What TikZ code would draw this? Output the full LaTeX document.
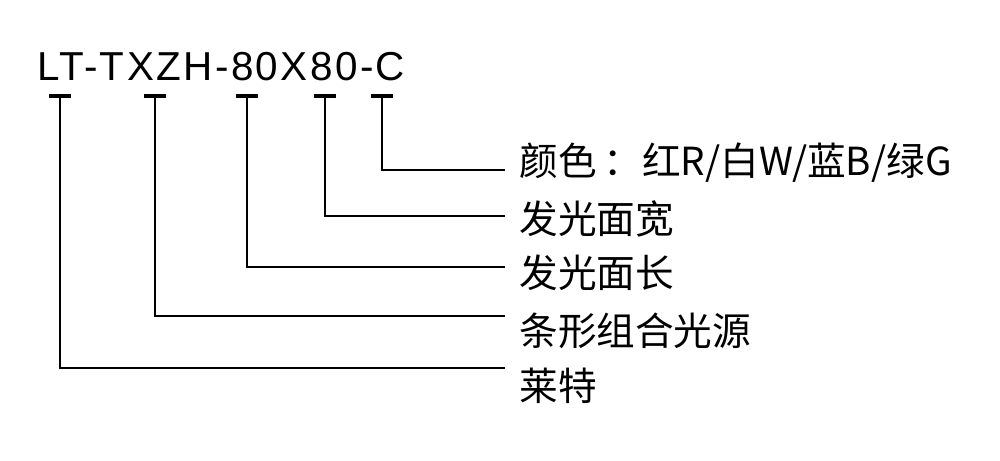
\documentclass[tikz,border=0pt]{standalone}
\usepackage{fontspec}
\setmainfont{Noto Sans CJK SC}
\newfontfamily\titlefont[LetterSpace=6]{Liberation Sans}
\begin{document}
\begin{tikzpicture}[x=0.02cm,y=-0.02cm,
  tick/.style={line width=2.6pt},
  lead/.style={line width=1.1pt},
  lab/.style={anchor=west,font=\fontsize{22}{24}\selectfont,inner sep=0pt}]
\useasboundingbox (0,0) rectangle (1000,460);
\node[anchor=base west,inner sep=0pt,font=\titlefont\fontsize{23}{26}\selectfont] (title) at (37,80) {LT-TXZH-80X80-C};
\foreach \n/\x in {a/60,b/155,c/247,d/325,e/382}{
  \coordinate (t\n) at (\x,96);
  \draw[tick] (\x-11,96) -- (\x+11,96);
}
\node[lab] (la) at (519,163) {颜色\hspace{4pt}：红R/白W/蓝B/绿G};
\node[lab] (lb) at (519,219) {发光面宽};
\node[lab] (lc) at (519,273) {发光面长};
\node[lab] (ld) at (519,331) {条形组合光源};
\node[lab] (le) at (519,386) {莱特};
\coordinate (ea) at (505,170);
\coordinate (eb) at (505,216);
\coordinate (ec) at (505,267);
\coordinate (ed) at (505,316);
\coordinate (ee) at (505,368);
\draw[lead] (te) |- (ea);
\draw[lead] (td) |- (eb);
\draw[lead] (tc) |- (ec);
\draw[lead] (tb) |- (ed);
\draw[lead] (ta) |- (ee);
\end{tikzpicture}
\end{document}
